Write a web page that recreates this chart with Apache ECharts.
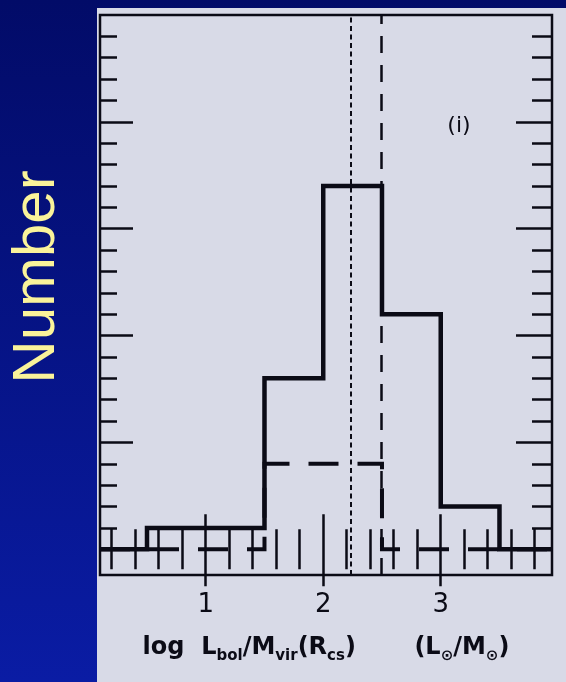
<!DOCTYPE html>
<html>
<head>
<meta charset="utf-8">
<script src="https://cdn.jsdelivr.net/npm/echarts@6/dist/echarts.min.js"></script>
<style>
  html, body { margin: 0; padding: 0; background: #03106f; }
  #chart { width: 566px; height: 682px; }
</style>
</head>
<body>
<div id="chart"></div>
<script>
// Histogram of log Lbol/Mvir: bin edges and counts
const binEdges  = [0.5, 1.0, 1.5, 2.0, 2.5, 3.0, 3.5];
const allCounts = [1, 1, 8, 17, 11, 2];   // full sample (solid)
const subCounts = [0, 0, 4, 4, 0, 0];     // sub-sample (dashed)

// Median values of the two samples
const medianAll = 2.23;   // dotted
const medianSub = 2.49;   // long dashes

// Axis tick positions
const xLabelTicks = [1, 2, 3];
const xMinorTicks = [0.2, 0.4, 0.6, 0.8, 1.2, 1.4, 1.6, 1.8, 2.2, 2.4, 2.6, 2.8, 3.2, 3.4, 3.6, 3.8];
const yMajorTicks = [0, 5, 10, 15, 20];
const yMinorTicks = [1, 2, 3, 4, 6, 7, 8, 9, 11, 12, 13, 14, 16, 17, 18, 19, 21, 22, 23, 24];

const xMin = 0.1, xMax = 3.947;
const yMin = -1.2, yMax = 25;

// Turn bin edges + counts into a step outline running along the zero level
function stepOutline(edges, counts) {
  const pts = [[xMin, 0], [edges[0], 0]];
  counts.forEach(function (c, i) {
    pts.push([edges[i], c]);
    pts.push([edges[i + 1], c]);
  });
  pts.push([edges[edges.length - 1], 0]);
  pts.push([xMax, 0]);
  return pts;
}

const ink = '#0b0b16';
const tickStyle = { color: ink, width: 2.5 };

function xAxisDef(position, ticks, len, extra) {
  return Object.assign({
    type: 'value', position: position, min: xMin, max: xMax,
    axisLine: { show: false },
    splitLine: { show: false },
    axisLabel: { show: false },
    axisTick: { show: true, inside: true, length: len, customValues: ticks, lineStyle: tickStyle }
  }, extra || {});
}
function yAxisDef(position, ticks, len) {
  return {
    type: 'value', position: position, min: yMin, max: yMax,
    axisLine: { show: false },
    splitLine: { show: false },
    axisLabel: { show: false },
    axisTick: { show: true, inside: true, length: len, customValues: ticks, lineStyle: tickStyle }
  };
}

const chart = echarts.init(document.getElementById('chart'), null, { renderer: 'canvas' });

chart.setOption({
  animation: false,
  backgroundColor: 'transparent',
  graphic: [
    {
      type: 'rect', z: -20,
      shape: { x: 0, y: 0, width: 566, height: 682 },
      style: {
        fill: new echarts.graphic.LinearGradient(0, 0, 0, 1, [
          { offset: 0, color: '#020b68' },
          { offset: 1, color: '#0a1ca4' }
        ])
      }
    },
    {
      type: 'rect', z: -10,
      shape: { x: 97, y: 8, width: 469, height: 674 },
      style: { fill: '#d8dae7' }
    },
    {
      type: 'text', x: 37, y: 277, rotation: Math.PI / 2,
      style: {
        text: 'Number', fill: '#faf39a',
        font: '60px "Liberation Sans", Arial, sans-serif',
        textAlign: 'center', textVerticalAlign: 'middle'
      }
    },
    {
      type: 'text', x: 459, y: 126,
      style: {
        text: '(i)', fill: ink,
        font: '22px "DejaVu Sans", sans-serif',
        textAlign: 'center', textVerticalAlign: 'middle'
      }
    }
  ],
  grid: {
    left: 100, top: 15, width: 452, height: 560,
    show: true, borderColor: ink, borderWidth: 2.5, backgroundColor: 'transparent'
  },
  xAxis: [
    xAxisDef('bottom', xMinorTicks, 20, {
      axisLabel: {
        show: true, customValues: xLabelTicks, margin: 17,
        color: ink, fontSize: 26, fontFamily: 'DejaVu Sans'
      },
      name: '{m|log  L}{s|bol}{m|/M}{s|vir}{m|(R}{s|cs}{m|)       (L}{s|⊙}{m|/M}{s|⊙}{m|)}',
      nameLocation: 'middle',
      nameGap: 61,
      nameTextStyle: {
        rich: {
          m: { fontSize: 24, fontWeight: 'bold', fontFamily: 'DejaVu Sans', color: ink, lineHeight: 26, verticalAlign: 'top' },
          s: { fontSize: 15, fontWeight: 'bold', fontFamily: 'DejaVu Sans', color: ink, lineHeight: 28, verticalAlign: 'bottom' }
        }
      }
    }),
    xAxisDef('bottom', xLabelTicks, 35),
    xAxisDef('top', xMinorTicks, 20),
    xAxisDef('top', xLabelTicks, 37)
  ],
  yAxis: [
    yAxisDef('left', yMinorTicks, 17),
    yAxisDef('left', yMajorTicks, 33),
    yAxisDef('right', yMinorTicks, 20),
    yAxisDef('right', yMajorTicks, 36)
  ],
  series: [
    {
      name: 'sub-sample', type: 'line',
      xAxisIndex: 0, yAxisIndex: 0,
      data: stepOutline(binEdges, subCounts),
      showSymbol: false, silent: true,
      lineStyle: { color: ink, width: 4, type: [30, 19], cap: 'butt', join: 'miter' },
      z: 3
    },
    {
      name: 'all', type: 'line',
      xAxisIndex: 0, yAxisIndex: 0,
      data: stepOutline(binEdges, allCounts),
      showSymbol: false, silent: true,
      lineStyle: { color: ink, width: 4.5, type: 'solid', cap: 'butt', join: 'miter' },
      z: 4,
      markLine: {
        silent: true, symbol: 'none', label: { show: false },
        data: [
          { xAxis: medianAll, lineStyle: { color: ink, width: 2, type: [5, 3.5] } },
          { xAxis: medianSub, lineStyle: { color: ink, width: 2.5, type: [17, 12] } }
        ]
      }
    }
  ]
});
</script>
</body>
</html>
